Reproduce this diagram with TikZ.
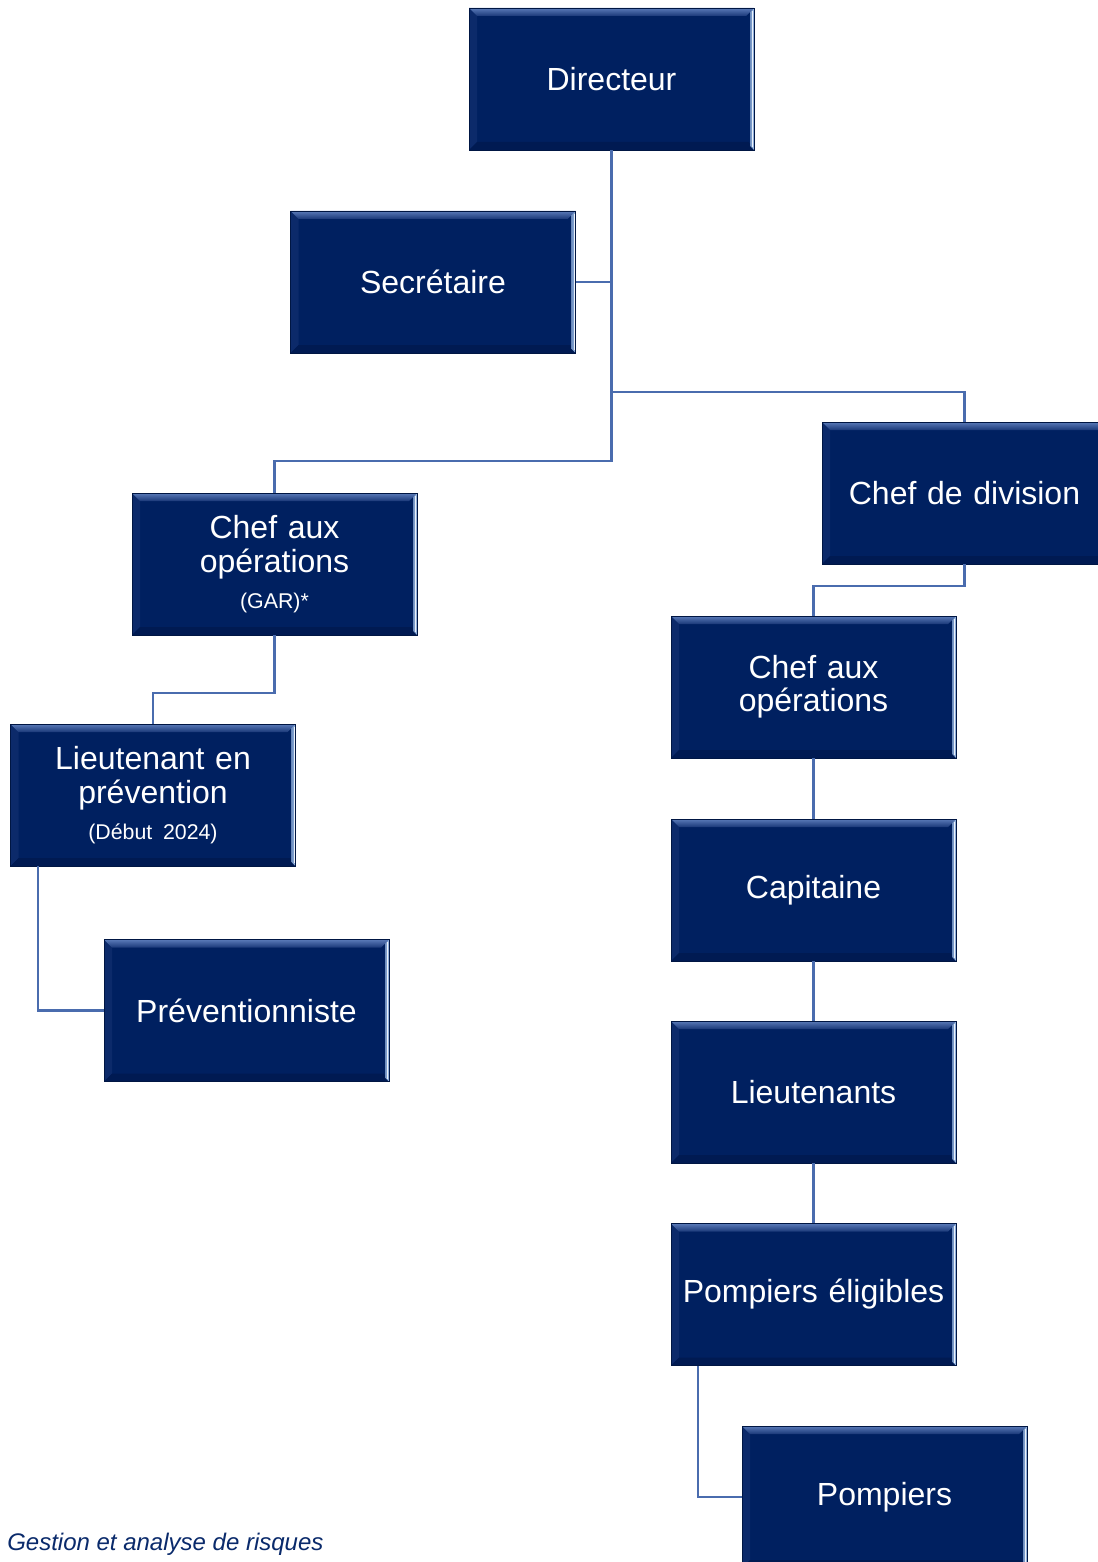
\documentclass[tikz,border=0pt]{standalone}
\usepackage{fontspec}
\setmainfont{Liberation Sans}
\definecolor{navy}{HTML}{002060}
\definecolor{bandtop}{HTML}{5A7AB8}
\definecolor{bandbot}{HTML}{1A3878}
\definecolor{leftband}{HTML}{0C2A6A}
\definecolor{botband}{HTML}{001A52}
\definecolor{rightlite}{HTML}{9DBDE8}
\definecolor{linec}{HTML}{4A6CAE}
\definecolor{foot}{HTML}{0A2A6B}
\tikzset{
  orgbox/.style={
    rectangle, fill=navy, draw=navy!70!black, line width=0.4pt,
    minimum width=213.75pt, minimum height=106.5pt, inner sep=0pt,
    text width=205pt, align=center, text=white,
    font=\fontsize{24}{25}\selectfont,
    path picture={
      \fill[leftband] (path picture bounding box.north west)
        -- ([xshift=6pt,yshift=-6pt]path picture bounding box.north west)
        -- ([xshift=6pt,yshift=6pt]path picture bounding box.south west)
        -- (path picture bounding box.south west) -- cycle;
      \fill[botband] (path picture bounding box.south west)
        -- ([xshift=6pt,yshift=6pt]path picture bounding box.south west)
        -- ([xshift=-4pt,yshift=6pt]path picture bounding box.south east)
        -- (path picture bounding box.south east) -- cycle;
      \shade[top color=bandtop, bottom color=bandbot]
        (path picture bounding box.north west)
        -- (path picture bounding box.north east)
        -- ([xshift=-6pt,yshift=-6pt]path picture bounding box.north east)
        -- ([xshift=6pt,yshift=-6pt]path picture bounding box.north west) -- cycle;
      \shade[left color=rightlite!70!navy, right color=rightlite]
        (path picture bounding box.north east)
        -- ([xshift=-3pt,yshift=-3pt]path picture bounding box.north east)
        -- ([xshift=-3pt,yshift=3pt]path picture bounding box.south east)
        -- (path picture bounding box.south east) -- cycle;
      \draw[white!80!rightlite, line width=0.6pt]
        ([xshift=-1.2pt,yshift=-2pt]path picture bounding box.north east)
        -- ([xshift=-1.2pt,yshift=2pt]path picture bounding box.south east);
    }
  },
  conn/.style={draw=linec, line width=1.8pt},
  small/.style={font=\fontsize{16}{18}\selectfont}
}
\begin{document}
\begin{tikzpicture}[x=0.75pt,y=-0.75pt]
\useasboundingbox (0,0) rectangle (1098,1562);
\fill[white] (0,0) rectangle (1098,1562);

\node[orgbox] (dir)  at (611.5,79)    {Directeur};
\node[orgbox] (sec)  at (433,282)     {Secrétaire};
\node[orgbox] (cdd)  at (964.5,493)   {Chef de division};
\node[orgbox] (caoL) at (274.5,564)   {Chef aux\\opérations\\[2pt]{\fontsize{16}{18}\selectfont(GAR)*}};
\node[orgbox] (lep)  at (153,795)     {Lieutenant en\\prévention\\[2pt]{\fontsize{16}{18}\selectfont(Début~2024)}};
\node[orgbox] (prev) at (246.5,1010.5){Préventionniste};
\node[orgbox] (caoR) at (813.5,687)   {Chef aux\\opérations};
\node[orgbox] (cap)  at (813.5,890)   {Capitaine};
\node[orgbox] (lts)  at (813.5,1092)  {Lieutenants};
\node[orgbox] (pel)  at (813.5,1294.5){Pompiers éligibles};
\node[orgbox] (pom)  at (884.5,1497)  {Pompiers};

\coordinate (b1) at (611.5,392);
\draw[conn] (dir.south) -- ++(0,311) -| (caoL.north);
\draw[conn] (sec.east) -- (sec.east -| dir.south);
\draw[conn] (b1) -| (cdd.north);
\draw[conn] (cdd.south) -- ++(0,22) -| (caoR.north);
\draw[conn] (caoL.south) -- ++(0,58) -| (lep.north);
\draw[conn] ([xshift=21pt]lep.south west) |- (prev.west);
\draw[conn] (caoR.south) -- (cap.north);
\draw[conn] (cap.south) -- (lts.north);
\draw[conn] (lts.south) -- (pel.north);
\draw[conn] ([xshift=20.25pt]pel.south west) |- (pom.west);

\node[anchor=base west, text=foot, font=\fontsize{18}{20}\selectfont\itshape, inner sep=0pt] (footer) at (7,1550) {Gestion et analyse de risques};
\end{tikzpicture}
\end{document}
